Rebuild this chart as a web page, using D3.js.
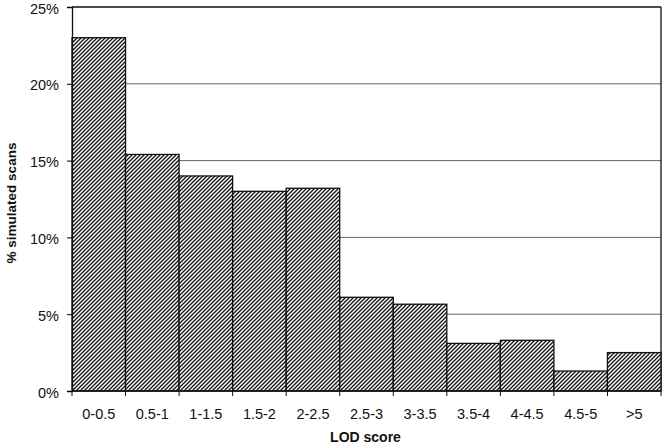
<!DOCTYPE html>
<html>
<head>
<meta charset="utf-8">
<script src="https://cdn.jsdelivr.net/npm/d3@7"></script>
<style>
  body { margin: 0; background: #fff; }
  text { font-family: "Liberation Sans", Arial, sans-serif; fill: #111; }
</style>
</head>
<body>
<svg id="chart" width="665" height="446"></svg>
<script>
const categories = ['0-0.5', '0.5-1', '1-1.5', '1.5-2', '2-2.5', '2.5-3', '3-3.5', '3.5-4', '4-4.5', '4.5-5', '>5']
const percents = [23.0, 15.4, 14.0, 13.0, 13.2, 6.1, 5.65, 3.1, 3.3, 1.3, 2.5]
const yTicks = [0, 5, 10, 15, 20, 25]

const margin = { top: 7, right: 4, bottom: 55, left: 72 }
const width = 665 - margin.left - margin.right
const height = 446 - margin.top - margin.bottom

const svg = d3.select('#chart')

// diagonal hatch
const pat = svg.append('defs').append('pattern')
    .attr('id', 'hatch')
    .attr('patternUnits', 'userSpaceOnUse')
    .attr('width', 4)
    .attr('height', 4)
pat.append('rect').attr('width', 4).attr('height', 4).attr('fill', '#fff')
pat.append('path')
    .attr('d', 'M-1,1 l2,-2 M0,4 l4,-4 M3,5 l2,-2')
    .attr('stroke', '#111')
    .attr('stroke-width', 1.3)

const g = svg.append('g')
    .attr('transform', `translate(${margin.left},${margin.top})`)

const x = d3.scaleBand()
    .range([0, width])
    .padding(0)
    .domain(categories)

const y = d3.scaleLinear()
    .range([height, 0])
    .domain([0, 25])

// gridlines
g.selectAll('.grid')
    .data(yTicks.filter(d => d > 0))
    .enter()
    .append('line')
    .attr('x1', 0)
    .attr('x2', width)
    .attr('y1', d => y(d))
    .attr('y2', d => y(d))
    .attr('stroke', d => d === 25 ? '#111' : '#555')
    .attr('stroke-width', d => d === 25 ? 1.3 : 0.9)

// right border
g.append('line')
    .attr('x1', width).attr('x2', width)
    .attr('y1', 0).attr('y2', height)
    .attr('stroke', '#111')
    .attr('stroke-width', 1.3)

g.selectAll('.bar')
    .data(categories)
    .enter()
    .append('rect')
    .attr('x', d => x(d))
    .attr('width', x.bandwidth())
    .attr('y', (d, i) => y(percents[i]))
    .attr('height', (d, i) => height - y(percents[i]))
    .attr('fill', 'url(#hatch)')
    .attr('stroke', '#111')
    .attr('stroke-width', 1.3)

const yAxis = d3.axisLeft(y)
    .tickValues(yTicks)
    .tickSize(5)
    .tickPadding(8)
    .tickFormat(d => d + '%')

g.append('g')
    .call(yAxis)
    .call(a => a.select('.domain').attr('stroke', '#111').attr('stroke-width', 1.3))
    .call(a => a.selectAll('text')
        .attr('font-size', 14.5)
        .attr('dy', '0.42em')
        .style('font-family', '"Liberation Sans", Arial, sans-serif'))

// x axis with ticks on the boundaries
const xg = g.append('g')
    .attr('transform', `translate(0,${height})`)
xg.append('line')
    .attr('x1', 0).attr('x2', width)
    .attr('stroke', '#111')
    .attr('stroke-width', 1.3)
xg.selectAll('.tick')
    .data(d3.range(categories.length + 1))
    .enter()
    .append('line')
    .attr('x1', i => i * x.step())
    .attr('x2', i => i * x.step())
    .attr('y1', 0)
    .attr('y2', 5)
    .attr('stroke', '#111')
xg.selectAll('.label')
    .data(categories)
    .enter()
    .append('text')
    .attr('x', d => x(d) + x.bandwidth() / 2)
    .attr('y', 28)
    .attr('text-anchor', 'middle')
    .attr('font-size', 14.5)
    .text(d => d)

svg.append('text')
    .attr('x', margin.left + width / 2 - 1)
    .attr('y', 442)
    .attr('text-anchor', 'middle')
    .attr('font-size', 14)
    .attr('font-weight', 'bold')
    .text('LOD score')

svg.append('text')
    .attr('transform', `translate(16,203) rotate(-90)`)
    .attr('text-anchor', 'middle')
    .attr('font-size', 13.5)
    .attr('font-weight', 'bold')
    .text('% simulated scans')
</script>
</body>
</html>
